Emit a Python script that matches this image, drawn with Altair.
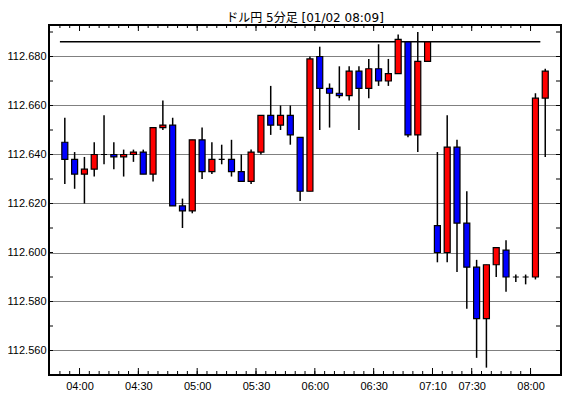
import altair as alt
import pandas as pd

# candle start times (5-minute bars); 07:00 slot is missing in the source
times = ["03:50", "03:55", "04:00", "04:05", "04:10", "04:15", "04:20", "04:25", "04:30", "04:35",
         "04:40", "04:45", "04:50", "04:55", "05:00", "05:05", "05:10", "05:15", "05:20", "05:25",
         "05:30", "05:35", "05:40", "05:45", "05:50", "05:55", "06:00", "06:05", "06:10", "06:15",
         "06:20", "06:25", "06:30", "06:35", "06:40", "06:45", "06:50", "07:05", "07:10", "07:15",
         "07:20", "07:25", "07:30", "07:35", "07:40", "07:45", "07:50", "07:55", "08:00", "08:05"]
label_times = ["04:00", "04:30", "05:00", "05:30", "06:00", "06:30", "07:10", "07:30", "08:00"]

opens = [112.645, 112.638, 112.632, 112.634, 112.640, 112.640, 112.639, 112.640, 112.641, 112.632,
         112.651, 112.652, 112.619, 112.617, 112.646, 112.633, 112.638, 112.638, 112.633, 112.629,
         112.641, 112.656, 112.652, 112.656, 112.647, 112.625, 112.680, 112.667, 112.665, 112.664,
         112.674, 112.667, 112.675, 112.670, 112.673, 112.686, 112.648, 112.678, 112.611, 112.600,
         112.643, 112.612, 112.594, 112.573, 112.595, 112.601, 112.590, 112.590, 112.590, 112.663]
closes = [112.638, 112.632, 112.634, 112.640, 112.640, 112.639, 112.640, 112.641, 112.632, 112.651,
          112.652, 112.619, 112.617, 112.646, 112.633, 112.638, 112.638, 112.633, 112.629, 112.641,
          112.656, 112.652, 112.656, 112.648, 112.625, 112.679, 112.667, 112.665, 112.664, 112.674,
          112.667, 112.675, 112.670, 112.673, 112.687, 112.648, 112.678, 112.686, 112.600, 112.643,
          112.612, 112.594, 112.573, 112.595, 112.602, 112.590, 112.590, 112.590, 112.663, 112.674]
highs = [112.655, 112.641, 112.639, 112.645, 112.656, 112.645, 112.642, 112.642, 112.642, 112.651,
         112.662, 112.655, 112.622, 112.646, 112.651, 112.645, 112.644, 112.646, 112.640, 112.642,
         112.656, 112.668, 112.660, 112.660, 112.647, 112.680, 112.684, 112.669, 112.676, 112.676,
         112.676, 112.679, 112.685, 112.679, 112.689, 112.686, 112.690, 112.686, 112.641, 112.656,
         112.646, 112.625, 112.597, 112.595, 112.602, 112.605, 112.591, 112.591, 112.665, 112.675]
lows = [112.628, 112.626, 112.620, 112.631, 112.636, 112.634, 112.631, 112.637, 112.632, 112.629,
        112.650, 112.619, 112.610, 112.616, 112.630, 112.632, 112.636, 112.631, 112.629, 112.628,
        112.640, 112.648, 112.650, 112.644, 112.621, 112.625, 112.650, 112.651, 112.663, 112.662,
        112.650, 112.663, 112.668, 112.668, 112.673, 112.647, 112.641, 112.678, 112.596, 112.596,
        112.592, 112.577, 112.557, 112.553, 112.590, 112.584, 112.588, 112.587, 112.589, 112.639]

ref_level = 112.686
y_grid = [112.560, 112.580, 112.600, 112.620, 112.640, 112.660, 112.680]
y_minor = [112.560, 112.570, 112.580, 112.590, 112.600, 112.610, 112.620, 112.630,
           112.640, 112.650, 112.660, 112.670, 112.680, 112.690]

W, H = 512, 350
X_DOM = [-1.103, -1.103 + W / 10.0]
Y_DOM = [112.550, 112.550 + H / 2450.0]

df = pd.DataFrame({"pos": list(range(len(times))), "time": times,
                   "open": opens, "close": closes, "high": highs, "low": lows})
df["dir"] = ["up" if c > o else ("down" if c < o else "flat") for o, c in zip(opens, closes)]

tick_df = pd.DataFrame({"b": [i - 0.5 for i in range(len(times) - 1)],
                        "t": times[:-1]})
tick_df["major"] = tick_df["t"].isin(label_times)
label_pos = [i - 0.5 for i, t in enumerate(times) if t in label_times]
label_map = dict(zip(label_pos, [t for t in times if t in label_times]))
expr = " : ".join(f"datum.value == {p} ? '{t}'" for p, t in label_map.items()) + " : ''"

ref_df = pd.DataFrame({"x1": [-0.5], "x2": [len(times) - 1.5], "y": [ref_level]})
ytick_df = pd.DataFrame({"v": y_minor})

FONT = "Liberation Sans"
xscale = alt.Scale(domain=X_DOM, nice=False, zero=False)
yscale = alt.Scale(domain=Y_DOM, nice=False, zero=False)

x_axis = alt.Axis(values=label_pos, labelExpr=expr, ticks=False, domain=False, grid=False,
                  title=None, labelFont=FONT, labelFontSize=11, labelColor="black",
                  labelPadding=5, labelFlush=False)
y_axis = alt.Axis(values=y_grid, format=".3f", ticks=False, domain=False, grid=True,
                  gridColor="black", gridDash=[1, 1], gridWidth=1, gridOpacity=1,
                  title=None, labelFont=FONT, labelFontSize=11, labelColor="black",
                  labelPadding=3)


def X(field):
    return alt.X(field, scale=xscale, axis=x_axis)


def Y(field):
    return alt.Y(field, scale=yscale, axis=y_axis)


base = alt.Chart(df)

wicks = base.mark_rule(color="black", strokeWidth=1.5).encode(
    x=X("pos:Q"), y=Y("low:Q"), y2="high:Q",
)

bodies = base.mark_bar(size=6, stroke="black", strokeWidth=1.2).encode(
    x=X("pos:Q"), y=Y("open:Q"), y2="close:Q",
    color=alt.Color("dir:N", scale=alt.Scale(domain=["up", "down", "flat"],
                                             range=["#ff0000", "#0000ff", "#000000"]),
                    legend=None),
)

ref_line = alt.Chart(ref_df).mark_rule(color="black", strokeWidth=1.5).encode(
    x=X("x1:Q"), x2="x2:Q", y=Y("y:Q"),
)

tick_base = alt.Chart(tick_df)
bt_minor = tick_base.mark_rule(color="black", strokeWidth=1).encode(
    x=X("b:Q"), y=alt.value(H), y2=alt.value(H - 4))
bt_major = tick_base.transform_filter("datum.major").mark_rule(color="black", strokeWidth=1).encode(
    x=X("b:Q"), y=alt.value(H), y2=alt.value(H - 7))
tt_minor = tick_base.mark_rule(color="black", strokeWidth=1).encode(
    x=X("b:Q"), y=alt.value(0), y2=alt.value(3))
tt_major = tick_base.transform_filter("datum.major").mark_rule(color="black", strokeWidth=1).encode(
    x=X("b:Q"), y=alt.value(0), y2=alt.value(6))

yt_base = alt.Chart(ytick_df).transform_filter(
    f"datum.v >= {Y_DOM[0]} && datum.v <= {Y_DOM[1]}")
yl_ticks = yt_base.mark_rule(color="black", strokeWidth=1).encode(
    y=Y("v:Q"), x=alt.value(0), x2=alt.value(4))
yr_ticks = yt_base.mark_rule(color="black", strokeWidth=1).encode(
    y=Y("v:Q"), x=alt.value(W - 5), x2=alt.value(W))

chart = alt.layer(
    wicks, ref_line, bodies, bt_minor, bt_major, tt_minor, tt_major, yl_ticks, yr_ticks
).properties(
    width=W, height=H,
    title=alt.TitleParams("ドル円 5分足 [01/02 08:09]", font="DejaVu Sans, Noto Sans CJK JP",
                          fontSize=12, fontWeight="normal", color="black",
                          anchor="middle", offset=0),
    autosize=alt.AutoSizeParams(type="none"),
    padding={"left": 41, "top": 17, "right": 1, "bottom": 15},
    background="white",
).configure_view(stroke="black", strokeWidth=2)

chart.save("out.html", embed_options={"renderer": "svg", "actions": False})
